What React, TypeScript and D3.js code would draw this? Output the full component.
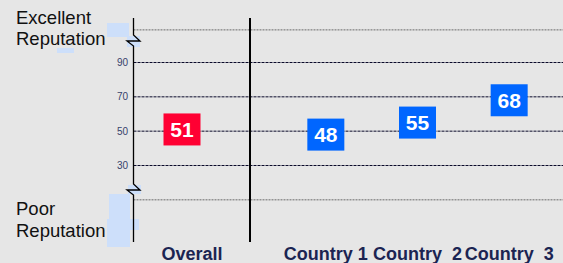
import React from "react";
import * as d3 from "d3";

const overallLabel = ["Overall"];
const overallValue = [51];
const countries = ["Country 1", "Country  2", "Country  3"];
const countryValues = [48, 55, 68];
const tickValues = [30, 50, 70, 90];
const edgeValues = [109, 10];
const topText = ["Excellent", "Reputation"];
const bottomText = ["Poor", "Reputation"];

const W = 563;
const H = 263;
const axisX = 133.5;
const sepX = 250;
const navy = "#1b2452";
const FONT = "'Liberation Sans', Arial, sans-serif";

export default function App() {
  const y = d3.scaleLinear().domain([30, 90]).range([165.5, 62.5]);
  const xOverall = d3.scaleBand().domain(overallLabel).range([154, 230]);
  const xCountry = d3.scaleBand().domain(countries).range([280, 555]);
  const boxW = 37;
  const boxH = 32;

  const highlights = [
    [107, 23, 22, 14],
    [127, 36, 13, 11],
    [57, 48, 17, 5],
    [128, 185, 13, 9],
    [109, 194, 21, 26],
    [107, 219, 32, 11],
    [107, 230, 23, 17],
  ];

  const box = (cx: number, v: number, color: string, key: string) => (
    <g key={key}>
      <rect x={cx - boxW / 2} y={y(v) - boxH / 2} width={boxW} height={boxH} fill={color} />
      <text
        x={cx}
        y={y(v) + 7.5}
        textAnchor="middle"
        fill="#fff"
        fontWeight="bold"
        fontSize={21}
        fontFamily={FONT}
      >
        {v}
      </text>
    </g>
  );

  return (
    <svg
      width={W}
      height={H}
      style={{ position: "absolute", left: 0, top: 0, display: "block" }}
      fontFamily={FONT}
    >
      <rect x={0} y={0} width={W} height={H} fill="#e6e6e6" />
      {highlights.map(([x, yy, w, h], i) => (
        <rect key={i} x={x} y={yy} width={w} height={h} fill="#cddffa" />
      ))}
      {edgeValues.map((v) => (
        <line
          key={"e" + v}
          x1={axisX}
          x2={W}
          y1={y(v)}
          y2={y(v)}
          stroke="#6a6a6a"
          strokeWidth={1}
          strokeDasharray="2,1"
        />
      ))}
      {tickValues.map((v) => (
        <g key={"t" + v}>
          <line
            x1={axisX}
            x2={W}
            y1={y(v)}
            y2={y(v)}
            stroke="#0a0a2a"
            strokeWidth={1}
            strokeDasharray="3,1"
          />
          <text x={128} y={y(v) + 3.5} textAnchor="end" fontSize={10} fill="#36426a">
            {v}
          </text>
        </g>
      ))}
      <path
        d={`M${axisX},18 L${axisX},35 L140,41 L127,41 L${axisX},46 L${axisX},184 L140,190 L127,190 L${axisX},195 L${axisX},242`}
        fill="none"
        stroke="#000"
        strokeWidth={1.3}
      />
      <line x1={sepX} x2={sepX} y1={18} y2={242} stroke="#000" strokeWidth={2} />
      {topText.map((t, i) => (
        <text key={"tt" + i} x={16} y={24 + i * 21} fontSize={18.5} fill="#111">
          {t}
        </text>
      ))}
      {bottomText.map((t, i) => (
        <text key={"bt" + i} x={16} y={215 + i * 22} fontSize={18.5} fill="#111">
          {t}
        </text>
      ))}
      {overallLabel.map((c, i) => {
        const cx = (xOverall(c) as number) + xOverall.bandwidth() / 2;
        return (
          <g key={c}>
            {box(cx - 10, overallValue[i], "#ff0033", "ob" + i)}
            <text x={cx} y={260} textAnchor="middle" fontWeight="bold" fontSize={18} fill={navy}>
              {c}
            </text>
          </g>
        );
      })}
      {countries.map((c, i) => {
        const cx = (xCountry(c) as number) + xCountry.bandwidth() / 2;
        return (
          <g key={c}>
            {box(cx, countryValues[i], "#0066ff", "cb" + i)}
            <text
              x={cx}
              y={260}
              textAnchor="middle"
              fontWeight="bold"
              fontSize={18}
              fill={navy}
              style={{ whiteSpace: "pre" }}
            >
              {c}
            </text>
          </g>
        );
      })}
    </svg>
  );
}
